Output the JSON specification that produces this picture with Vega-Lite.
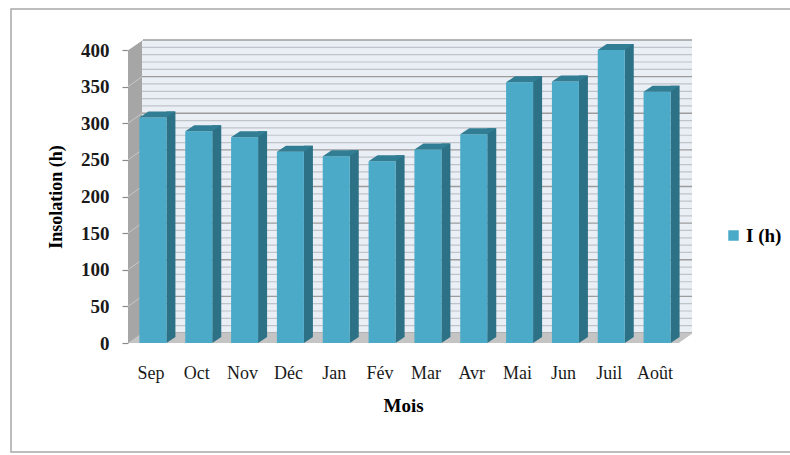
{
  "$schema": "https://vega.github.io/schema/vega-lite/v6.json",
  "width": 550,
  "height": 293,
  "autosize": "none",
  "padding": {"left": 128, "top": 50, "right": 112, "bottom": 112},
  "background": "white",
  "config": {
    "view": {"stroke": null},
    "font": "'Liberation Serif', 'Times New Roman', serif",
    "axisX": {
      "labelAngle": 0, "domain": false, "ticks": false, "tickSize": 0, "grid": false,
      "labelPadding": 21, "labelFont": "'Liberation Serif', 'Times New Roman', serif", "labelFontSize": 18,
      "labelColor": "#1a1a1a", "titleFont": "'Liberation Serif', 'Times New Roman', serif", "titleFontSize": 19,
      "titleFontWeight": "bold", "titleColor": "#000000", "titlePadding": 14
    },
    "axisY": {
      "grid": false, "domain": false, "tickSize": 6, "tickColor": "#8a8a8a", "tickWidth": 1.2,
      "labelPadding": 13, "labelFont": "'Liberation Serif', 'Times New Roman', serif", "labelFontSize": 19,
      "labelFontWeight": "bold", "labelColor": "#1a1a1a",
      "titleFont": "'Liberation Serif', 'Times New Roman', serif", "titleFontSize": 18, "titleFontWeight": "bold",
      "titleColor": "#000000", "titlePadding": 15
    }
  },
  "datasets": {
    "insolation": [
      {"mois": "Sep", "heures": 308, "serie": "I (h)"},
      {"mois": "Oct", "heures": 289, "serie": "I (h)"},
      {"mois": "Nov", "heures": 281, "serie": "I (h)"},
      {"mois": "Déc", "heures": 261, "serie": "I (h)"},
      {"mois": "Jan", "heures": 255, "serie": "I (h)"},
      {"mois": "Fév", "heures": 248, "serie": "I (h)"},
      {"mois": "Mar", "heures": 264, "serie": "I (h)"},
      {"mois": "Avr", "heures": 285, "serie": "I (h)"},
      {"mois": "Mai", "heures": 356, "serie": "I (h)"},
      {"mois": "Jun", "heures": 357, "serie": "I (h)"},
      {"mois": "Juil", "heures": 400, "serie": "I (h)"},
      {"mois": "Août", "heures": 343, "serie": "I (h)"}
    ],
    "grilleMineure": [
      {"v": 10}, {"v": 20}, {"v": 30}, {"v": 40}, {"v": 60}, {"v": 70}, {"v": 80}, {"v": 90},
      {"v": 110}, {"v": 120}, {"v": 130}, {"v": 140}, {"v": 160}, {"v": 170}, {"v": 180}, {"v": 190},
      {"v": 210}, {"v": 220}, {"v": 230}, {"v": 240}, {"v": 260}, {"v": 270}, {"v": 280}, {"v": 290},
      {"v": 310}, {"v": 320}, {"v": 330}, {"v": 340}, {"v": 360}, {"v": 370}, {"v": 380}, {"v": 390}
    ],
    "grilleMajeure": [
      {"v": 0}, {"v": 50}, {"v": 100}, {"v": 150}, {"v": 200}, {"v": 250}, {"v": 300}, {"v": 350}, {"v": 400}
    ],
    "unique": [{}]
  },
  "layer": [
    {
      "description": "chart frame",
      "data": {"name": "unique"},
      "mark": {"type": "rect", "filled": false, "stroke": "#a8a8a8", "strokeWidth": 1.5},
      "encoding": {
        "x": {"value": -117}, "x2": {"value": 700},
        "y": {"value": -41}, "y2": {"value": 402}
      }
    },
    {
      "description": "left side wall",
      "data": {"name": "unique"},
      "mark": {"type": "rect", "fill": "#a6a6a6", "yOffset": -10},
      "encoding": {
        "x": {"value": 0}, "x2": {"value": 14},
        "y": {"datum": 400, "scale": {"domain": [0, 400], "nice": false},
              "axis": {"title": "Insolation (h)", "values": [0, 50, 100, 150, 200, 250, 300, 350, 400]}},
        "y2": {"datum": 0}
      }
    },
    {
      "description": "diagonal gridlines on the side wall",
      "data": {"name": "grilleMajeure"},
      "mark": {"type": "rule", "color": "#c8c8c8", "strokeWidth": 1, "y2Offset": -10},
      "encoding": {
        "x": {"value": 0}, "x2": {"value": 14},
        "y": {"field": "v", "type": "quantitative",
              "axis": {"title": "Insolation (h)", "values": [0, 50, 100, 150, 200, 250, 300, 350, 400]}},
        "y2": {"field": "v"}
      }
    },
    {
      "description": "back wall",
      "data": {"name": "unique"},
      "mark": {"type": "rect", "fill": "#eaeef5", "yOffset": -10, "y2Offset": -10},
      "encoding": {
        "x": {"value": 14}, "x2": {"value": 564},
        "y": {"datum": 400,
              "axis": {"title": "Insolation (h)", "values": [0, 50, 100, 150, 200, 250, 300, 350, 400]}},
        "y2": {"datum": 0}
      }
    },
    {
      "description": "minor gridlines on the back wall",
      "data": {"name": "grilleMineure"},
      "mark": {"type": "rule", "color": "#bfc3ca", "strokeWidth": 1.2, "yOffset": -10},
      "encoding": {
        "x": {"value": 14}, "x2": {"value": 564},
        "y": {"field": "v", "type": "quantitative",
              "axis": {"title": "Insolation (h)", "values": [0, 50, 100, 150, 200, 250, 300, 350, 400]}}
      }
    },
    {
      "description": "major gridlines on the back wall",
      "data": {"name": "grilleMajeure"},
      "mark": {"type": "rule", "color": "#9c9c9c", "strokeWidth": 1.4, "yOffset": -10},
      "encoding": {
        "x": {"value": 14}, "x2": {"value": 564},
        "y": {"field": "v", "type": "quantitative",
              "axis": {"title": "Insolation (h)", "values": [0, 50, 100, 150, 200, 250, 300, 350, 400]}}
      }
    },
    {
      "description": "floor",
      "data": {"name": "unique"},
      "mark": {"type": "rect", "fill": "#c4c4c4", "y2Offset": -10},
      "encoding": {
        "x": {"value": 0}, "x2": {"value": 564},
        "y": {"datum": 0,
              "axis": {"title": "Insolation (h)", "values": [0, 50, 100, 150, 200, 250, 300, 350, 400]}},
        "y2": {"datum": 0}
      }
    },
    {
      "description": "side wall corner over the floor",
      "data": {"name": "unique"},
      "mark": {"type": "point", "shape": "M0,-10L14,-10L0,0Z", "size": 4, "filled": true, "fill": "#a6a6a6", "strokeWidth": 0, "opacity": 1},
      "encoding": {
        "x": {"value": 0},
        "y": {"datum": 0,
              "axis": {"title": "Insolation (h)", "values": [0, 50, 100, 150, 200, 250, 300, 350, 400]}}
      }
    },
    {
      "description": "trim the floor's front right corner",
      "data": {"name": "unique"},
      "mark": {"type": "point", "shape": "M0,0.5L15,0.5L15,-10Z", "size": 4, "filled": true, "fill": "white", "strokeWidth": 0, "opacity": 1},
      "encoding": {
        "x": {"value": 550},
        "y": {"datum": 0,
              "axis": {"title": "Insolation (h)", "values": [0, 50, 100, 150, 200, 250, 300, 350, 400]}}
      }
    },
    {
      "description": "trim the side wall's top corner",
      "data": {"name": "unique"},
      "mark": {"type": "point", "shape": "M-0.5,-11L15,-11L15,-10L-0.5,0.5Z", "size": 4, "filled": true, "fill": "white", "strokeWidth": 0, "opacity": 1},
      "encoding": {
        "x": {"value": 0},
        "y": {"datum": 400,
              "axis": {"title": "Insolation (h)", "values": [0, 50, 100, 150, 200, 250, 300, 350, 400]}}
      }
    },
    {
      "description": "right side face of each column",
      "data": {"name": "insolation"},
      "mark": {"type": "bar", "size": 9, "xOffset": 20, "yOffset": -6, "y2Offset": -6, "color": "#2c7186"},
      "encoding": {
        "x": {"field": "mois", "type": "nominal", "sort": null, "axis": {"title": "Mois"}},
        "y": {"field": "heures", "type": "quantitative",
              "axis": {"title": "Insolation (h)", "values": [0, 50, 100, 150, 200, 250, 300, 350, 400]}},
        "y2": {"datum": 0}
      }
    },
    {
      "description": "lower corner of each side face",
      "data": {"name": "insolation"},
      "mark": {"type": "point", "shape": "M13.5,-6L22.5,-6L13.5,0Z", "size": 4, "xOffset": 2, "filled": true, "fill": "#2c7186", "strokeWidth": 0, "opacity": 1},
      "encoding": {
        "x": {"field": "mois", "type": "nominal", "sort": null, "axis": {"title": "Mois"}},
        "y": {"datum": 0,
              "axis": {"title": "Insolation (h)", "values": [0, 50, 100, 150, 200, 250, 300, 350, 400]}}
      }
    },
    {
      "description": "front face of each column",
      "data": {"name": "insolation"},
      "mark": {"type": "bar", "size": 27, "xOffset": 2},
      "encoding": {
        "x": {
          "field": "mois", "type": "nominal", "sort": null,
          "scale": {"paddingInner": 0.2, "paddingOuter": 0.1},
          "axis": {"title": "Mois"}
        },
        "y": {
          "field": "heures", "type": "quantitative",
          "axis": {"title": "Insolation (h)", "values": [0, 50, 100, 150, 200, 250, 300, 350, 400]}
        },
        "color": {
          "field": "serie", "type": "nominal",
          "scale": {"domain": ["I (h)"], "range": ["#4aaac8"]},
          "legend": {
            "title": null, "orient": "none", "legendX": 596, "legendY": 176,
            "symbolType": "square", "symbolSize": 110, "symbolStrokeWidth": 0,
            "labelFont": "'Liberation Serif', 'Times New Roman', serif", "labelFontSize": 19, "labelFontWeight": "bold",
            "labelColor": "#000000", "labelOffset": 3
          }
        }
      }
    },
    {
      "description": "top face of each column",
      "data": {"name": "insolation"},
      "mark": {"type": "point", "shape": "M-13.5,0L13.5,0L22.5,-6L-4.5,-6Z", "size": 4, "xOffset": 2, "filled": true, "fill": "#317d93", "strokeWidth": 0, "opacity": 1},
      "encoding": {
        "x": {"field": "mois", "type": "nominal", "sort": null, "axis": {"title": "Mois"}},
        "y": {"field": "heures", "type": "quantitative",
              "axis": {"title": "Insolation (h)", "values": [0, 50, 100, 150, 200, 250, 300, 350, 400]}}
      }
    }
  ]
}
